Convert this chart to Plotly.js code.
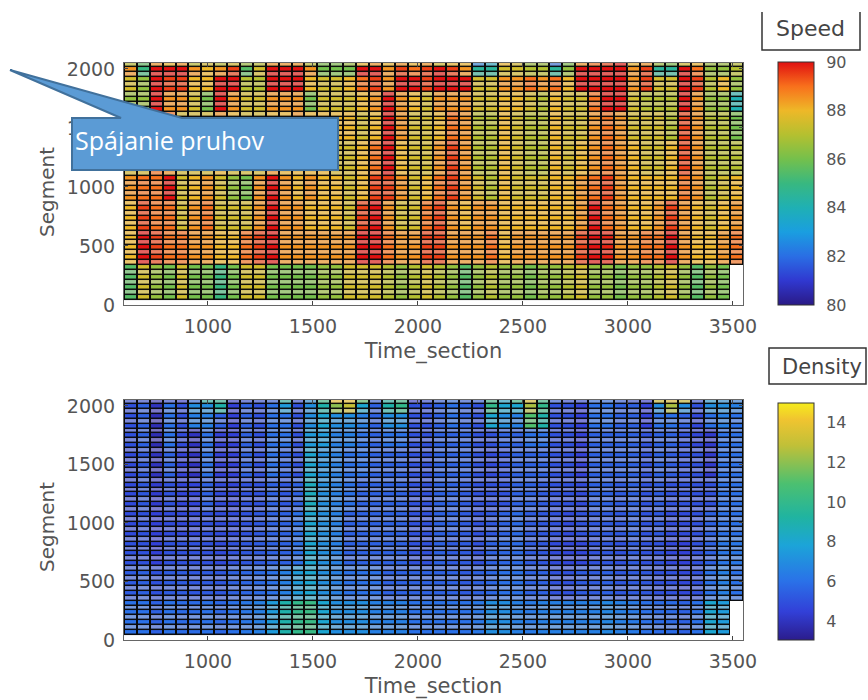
<!DOCTYPE html>
<html><head><meta charset="utf-8">
<script src="https://cdn.plot.ly/plotly-3.0.1.min.js"></script>
<style>html,body{margin:0;padding:0;background:#fff}#c{width:868px;height:700px}</style>
</head><body><div id="c"></div>
<script>
// Rows per band (top of the chart first)
const bandRows = [1,2,3,4,6,7,5,6,7,7];
// Speed, one list per band, 48 time sections each
const speedA = [87,85.5,88.5,88,88.5,87,87.5,87,87.5,86.5,87,88.5,88.5,88.5,87,86,86,86.5,88,88.5,88,88.5,88,88.5,87.5,88,88,82.5,83.5,88,87.5,86.5,86.5,82,86,88.5,89,89.5,90,88,88.5,86.5,86,87.5,88,86.5,86.5,87];
const speedB = [88.5,85,90,90,90,88.5,88,88.5,89.5,85.5,87.5,90,90,90,88.5,86,86,86,90,90,88.5,89.5,89,89.5,90,89.5,88.5,84.5,84.5,87.5,87.5,87,87,84.5,86.5,90,90,90,90,88.5,89.5,84.5,84.5,90,89,86.5,86.5,87];
const speedC = [87.5,86.5,90,89.5,89.5,88,88,90,90,87,87,90,90,90,88,87.5,87.5,88,89,89.5,88.5,90,90,89.5,90,90,90,87.5,87.5,88.5,88.5,89,88.5,89,88,90,90,90,90,88.5,89.5,87.5,87.5,90,89.5,87,88,86.5];
const speedD = [86.5,86.5,90,88.5,88.5,87.5,86,90,88.5,87.5,87.5,88.5,88.5,88.5,86,87.5,87.5,87.5,88,88.5,90,88.5,88,87.5,88.5,88.5,88.5,87.5,87.5,88,88,87.5,87,88,87.5,87.5,89,90,90,87.5,87,87,87,90,88.5,86.5,86.5,84];
const speedE = [87,87,89.5,89,87.5,87.5,87.5,88.5,88,87.5,87.5,88,88,88.5,88,88,88,88,87.5,88,90,88.5,87.5,87.5,88,89,88.5,87,87,88,87.5,87,87,88,87.5,87.5,88.5,89,88.5,87.5,87.5,87.5,87,89.5,88.5,87,87,86];
const speedF = [87.5,87.5,89,88.5,87.5,87.5,87.5,88,87.5,87.5,87.5,88.5,88,88,88,88,87.5,87.5,88,89,90,88,87.5,87.5,88.5,89.5,88.5,87,87,88,87.5,87,87,88,87.5,88,88.5,89,88.5,88,87.5,87.5,88,89.5,88.5,87,87,87];
const speedG = [88.5,89,89,90,87.5,88,88.5,87.5,86.5,86,88.5,90,88.5,88,88.5,88,88,87.5,88,89.5,89.5,88.5,87.5,88,89,89.5,88.5,87.5,87,88,87.5,87.5,87.5,88,88,88.5,89,89.5,88.5,88,88,88,88,89,88.5,87,87.5,88];
const speedH = [88,89.5,89,89,87.5,88.5,89,87.5,87.5,87.5,88.5,90,88.5,88.5,88,88,88,87.5,89.5,90,88.5,87.5,87.5,89,89.5,88.5,88,88.5,88.5,88,88,88,88,88,88,88.5,90,89,88.5,88,88,88.5,89.5,88.5,88,87.5,88,88.5];
const speedI = [88,90,89.5,89,89,88.5,88.5,88,88,89,89.5,90,88.5,88.5,88.5,88.5,88.5,88.5,90,90,89,88.5,88.5,89.5,89.5,88.5,88.5,88.5,89,88,88.5,88.5,88.5,88.5,88.5,89.5,90,89.8,88.5,88.5,89,89,90,88.5,88,88,88.5,89];
const speedJ = [85.5,87.5,86.5,86,87.5,86,86,85,86,87.5,87.5,86,86,86,86,86.5,86.5,87.5,87.5,87.5,87,86.5,87,87.5,87,86.5,85.5,86.5,87,86.5,86.5,86,86.5,86.5,87,87.5,86.5,86.5,86,86.5,86.5,87,87.5,86.5,85.5,86.5,86,null];
// Density, same bands
const densA = [5,5,4,5,4.5,6,9,9.5,4.5,5,5,5.5,9,5,7,10,14,14,11,5.5,9,10,4.5,5,5.5,6,5.5,5.5,10,8,10,13.5,10,5.5,5,5,6,6,5.5,5,4.5,13,13.5,13,5,7.5,7,6.5];
const densB = [5,5.5,4,6,5,7,7,9,4.5,5.5,5,6,7.5,5,7,9,12,13,8,5.5,9,10,5,5,5.5,6,5.5,5,10,8,8,12.5,10,5,5,4.5,6,6,5.5,5.5,4.5,7,12.5,7,5,7,7,6.5];
const densC = [5,5.5,3.8,6,5,6.5,6.5,5.5,4.5,5.5,5,6,6,5,7,8,7,7,6.5,5.5,7,7,5,5,5.5,6,5.5,5,8,7,6.5,11,9,5,5,4.5,6,6,5.5,5.5,4.5,6,6,5.5,4.7,6,6.5,6];
const densD = [5,5.5,3.8,6,4.8,4,6,4.5,4.5,5.5,5,6,6,5,7.5,7.5,6.5,6.5,6,5.5,6,6,5,5,5.5,5.5,5.5,5,5,5.5,5.5,6,6,5,5,4.5,5.5,5.5,5.5,5.5,5,5.5,5.5,5,4.7,4.3,6,6];
const densE = [4.8,5.2,4,5.5,4.5,4,6,4.5,4.5,5.5,5,6,5.5,5,8,7,6.5,6,6,5.5,5.5,5.5,5,5,5.5,5.5,5.5,5,4.8,5,5.5,5.5,5.5,5,5,4.5,5.5,5.5,5.5,5.5,5,5.5,5.3,5,5,4.3,6,6];
const densF = [4.8,5.2,4.3,5,4.6,4.6,5.5,4.8,4.6,5,5,5.5,5.2,5.5,8.5,7,6.5,6,5.5,5.5,5.5,5.5,5,5,5.5,5.5,5.3,5,5,5,5.5,5.5,5.3,5,5,4.8,5.5,5.5,5.3,5.5,5,5.3,5,5,5,5,6,6];
const densG = [4.8,5,4.5,4.8,4.7,4.7,5,4.8,4.8,5,5.2,5.5,5.5,6,8,7,6.5,5.5,5.5,5.5,5.5,5.5,5,5,5.5,5.5,5.3,5,5.2,5.5,5.8,5.3,5.2,5,4.8,5,5.2,5.3,5.2,5.5,5,5.2,4.8,4.8,5,5.5,6,6];
const densH = [5,5,4.5,5,5,5,5,4.8,5,5.2,5.3,5.5,5.5,6,8,7,6.5,5.5,5.5,5.5,5.5,5.5,5,5,5.5,5.3,5.3,5,5.5,5.7,5.8,5.3,5.2,4.8,4.7,4.7,5,5.2,5,5.3,5,5,4.7,4.5,5,5.5,6.2,6.2];
const densI = [5.3,5.5,5,5.3,5.3,5.2,5.3,5.2,5.5,5.7,5.8,6,6.5,7.5,8,7,6.5,6,6,6,5.5,5.5,5.5,5.5,5.5,5.5,5.3,5.5,5.7,6,6,5.5,5.5,5,5,5.3,5.3,5.5,5.2,5.3,5.2,5,5,4.7,5,6,6.5,6];
const densJ = [6,6,5.5,6,5.8,5.8,6,5.7,6,6.2,6.5,7.5,9,10,10.2,8,7,7,7,6.5,6.5,6.5,6,6,6,6,6,6.2,7,7,6.5,6.3,6.5,6.5,6.5,6.5,6.5,6.8,6.5,6.3,6,5.8,5.8,5.5,6,8,7.5,null];
const speedTicks = [80,82,84,86,88,90];
const densTicks = [4,6,8,10,12,14];
const xTicks = [1000,1500,2000,2500,3000,3500];
const yTicks = [0,500,1000,1500,2000];

const expand = bands => {
  const rows = [];
  bands.forEach((b,i)=>{ for(let k=0;k<bandRows[i];k++) rows.push(b); });
  return rows.reverse();
};
const speedZ = expand([speedA,speedB,speedC,speedD,speedE,speedF,speedG,speedH,speedI,speedJ]);
const densZ = expand([densA,densB,densC,densD,densE,densF,densG,densH,densI,densJ]);

const grid = {x0:630.7,dx:61.4,y0:63,dy:42};
const W=868,H=700, px=x=>x/W, py=y=>1-y/H;
const mask = z => z.map(r=>r.map(v=>v===null?null:1));
const stripes = z => z.map((r,i)=>r.map(v=>(v===null||i%2===0)?null:1));

const speedScale=[[0,'#2a1a86'],[0.1,'#3038d0'],[0.2,'#2a6ee4'],[0.3,'#1a9ee0'],[0.4,'#1fb0b4'],[0.5,'#38b880'],[0.6,'#74c04c'],[0.7,'#b4c030'],[0.8,'#eeb828'],[0.9,'#f8701c'],[1,'#e01010']];
const densScale=[[0,'#2b1c8c'],[0.12,'#3240d8'],[0.25,'#2a72e8'],[0.4,'#1ca4d8'],[0.52,'#20b4a0'],[0.66,'#4cc070'],[0.82,'#c0c038'],[0.93,'#f0c430'],[1,'#f6ec1c']];

function trio(z,scale,zmin,zmax,ax,ay,cb){
  return [
    {type:'heatmap',z:mask(z),...grid,xaxis:ax,yaxis:ay,colorscale:[[0,'#0a0a0a'],[1,'#0a0a0a']],showscale:false,zmin:0,zmax:1,hoverinfo:'skip'},
    {type:'heatmap',z:z,...grid,xaxis:ax,yaxis:ay,colorscale:scale,zmin:zmin,zmax:zmax,xgap:2,ygap:1.5,colorbar:cb},
    {type:'heatmap',z:stripes(z),...grid,xaxis:ax,yaxis:ay,colorscale:[[0,'#e8d8d0'],[1,'#e8d8d0']],showscale:false,zmin:0,zmax:1,xgap:2,ygap:1.5,opacity:0.42,hoverinfo:'skip'}
  ];
}
const cbBase={thickness:36,thicknessmode:'pixels',lenmode:'pixels',xanchor:'left',yanchor:'top',xpad:0,ypad:0,ticks:'outside',ticklen:9,tickcolor:'rgba(0,0,0,0)',outlinecolor:'#333',outlinewidth:1,tickfont:{family:'DejaVu Sans',size:16,color:'#555'}};
const data=[
  ...trio(speedZ,speedScale,80,90,'x','y',{...cbBase,x:px(778),y:py(62),len:243,tickvals:speedTicks}),
  ...trio(densZ,densScale,3.04,15,'x2','y2',{...cbBase,x:px(778),y:py(403),len:237,tickvals:densTicks})
];
const axisFont={family:'DejaVu Sans',size:19,color:'#555'};
const titleFont={family:'DejaVu Sans',size:21,color:'#555'};
const xa=(anchor,title)=>({domain:[px(124),px(743)],range:[600,3548],anchor,tickvals:xTicks,ticks:'inside',ticklen:4,tickcolor:'#444',showline:true,linecolor:'#666',linewidth:1,mirror:'ticks',showgrid:false,zeroline:false,tickfont:axisFont,ticklabelstandoff:4,title:{text:title,font:titleFont,standoff:7},automargin:false});
const ya=(anchor,dom)=>({domain:dom,range:[0,2050],anchor,tickvals:yTicks,ticks:'inside',ticklen:4,tickcolor:'#444',showline:true,linecolor:'#666',linewidth:1,mirror:'ticks',showgrid:false,zeroline:false,tickfont:axisFont,ticklabelstandoff:4,automargin:false});
const pt=(x,y)=>px(x)+','+py(y);
const calloutPath='M'+pt(10,70)+' L'+pt(121,118)+' L'+pt(72,118)+' L'+pt(72,170)+' L'+pt(338,170)+' L'+pt(338,118)+' L'+pt(182,118)+' Z';
const labelBox=(x0,y0,x1,y1)=>({type:'rect',xref:'paper',yref:'paper',x0:px(x0),x1:px(x1),y0:py(y1),y1:py(y0),line:{color:'#333',width:1.5},fillcolor:'#fff',layer:'above'});
const segLabel=y=>({xref:'paper',yref:'paper',x:px(47),y:py(y),xanchor:'center',yanchor:'middle',textangle:-90,text:'Segment',showarrow:false,font:{family:'DejaVu Sans',size:20,color:'#555'}});
const layout={
  width:W,height:H,margin:{l:0,r:0,t:0,b:0},paper_bgcolor:'#fff',plot_bgcolor:'#fff',showlegend:false,
  xaxis:xa('y','Time_section'),
  yaxis:ya('x',[py(305),py(63)]),
  xaxis2:xa('y2','Time_section'),
  yaxis2:ya('x2',[py(640),py(400)]),
  shapes:[
    {type:'path',xref:'paper',yref:'paper',path:'M'+pt(762,12)+' L'+pt(762,50)+' L'+pt(860,50)+' L'+pt(860,12),line:{color:'#333',width:1.5},layer:'above'},
    labelBox(769,348,866,384),
    {type:'path',xref:'paper',yref:'paper',path:calloutPath,fillcolor:'#5B9BD5',line:{color:'#41719C',width:2},layer:'above'}
  ],
  annotations:[
    segLabel(192),segLabel(527),
    {xref:'paper',yref:'paper',x:px(810),y:py(28),xanchor:'center',yanchor:'middle',text:'Speed',showarrow:false,font:{family:'DejaVu Sans',size:22,color:'#444'}},
    {xref:'paper',yref:'paper',x:px(822),y:py(367),xanchor:'center',yanchor:'middle',text:'Density',showarrow:false,font:{family:'DejaVu Sans',size:21,color:'#444'}},
    {xref:'paper',yref:'paper',x:px(73),y:py(140),xanchor:'left',yanchor:'middle',text:'Spájanie pruhov',showarrow:false,font:{family:'Open Sans',size:25,color:'#fff'}}
  ]
};
Plotly.newPlot('c',data,layout,{displayModeBar:false,staticPlot:true});
</script></body></html>
